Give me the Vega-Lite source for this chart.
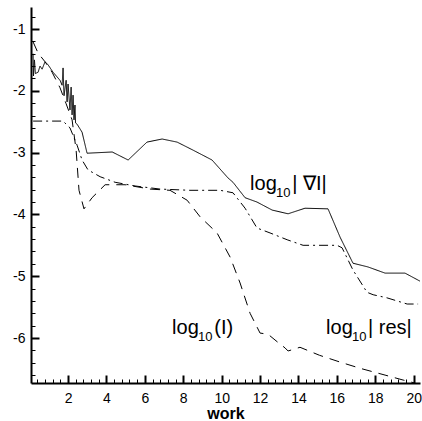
{
  "$schema": "https://vega.github.io/schema/vega-lite/v6.json",
  "width": 389,
  "height": 376,
  "autosize": {"type": "none"},
  "padding": {"left": 31, "top": 7, "right": 2, "bottom": 38},
  "background": "white",
  "config": {
    "view": {"stroke": null},
    "font": "Liberation Sans",
    "axis": {"grid": false, "domainColor": "black", "tickColor": "black", "labelColor": "black", "titleColor": "black", "labelFont": "Liberation Sans", "titleFont": "Liberation Sans"}
  },
  "datasets": {
    "curves": [
      {"s": "grad", "x": 0.18, "y": -1.40},
      {"s": "grad", "x": 0.20, "y": -1.76},
      {"s": "grad", "x": 0.25, "y": -1.50},
      {"s": "grad", "x": 0.30, "y": -1.72},
      {"s": "grad", "x": 0.44, "y": -1.70},
      {"s": "grad", "x": 0.54, "y": -1.60},
      {"s": "grad", "x": 0.65, "y": -1.65},
      {"s": "grad", "x": 0.80, "y": -1.53},
      {"s": "grad", "x": 0.96, "y": -1.58},
      {"s": "grad", "x": 1.22, "y": -1.70},
      {"s": "grad", "x": 1.58, "y": -1.83},
      {"s": "grad", "x": 1.69, "y": -1.91},
      {"s": "grad", "x": 1.74, "y": -1.63},
      {"s": "grad", "x": 1.79, "y": -2.08},
      {"s": "grad", "x": 1.90, "y": -1.83},
      {"s": "grad", "x": 1.95, "y": -2.18},
      {"s": "grad", "x": 2.00, "y": -1.89},
      {"s": "grad", "x": 2.10, "y": -2.31},
      {"s": "grad", "x": 2.16, "y": -1.94},
      {"s": "grad", "x": 2.21, "y": -2.39},
      {"s": "grad", "x": 2.26, "y": -2.07},
      {"s": "grad", "x": 2.31, "y": -2.47},
      {"s": "grad", "x": 2.36, "y": -2.23},
      {"s": "grad", "x": 2.39, "y": -2.52},
      {"s": "grad", "x": 2.47, "y": -2.54},
      {"s": "grad", "x": 2.73, "y": -2.67},
      {"s": "grad", "x": 2.99, "y": -3.01},
      {"s": "grad", "x": 4.30, "y": -2.99},
      {"s": "grad", "x": 5.13, "y": -3.12},
      {"s": "grad", "x": 6.11, "y": -2.83},
      {"s": "grad", "x": 6.90, "y": -2.78},
      {"s": "grad", "x": 7.68, "y": -2.83},
      {"s": "grad", "x": 8.51, "y": -2.96},
      {"s": "grad", "x": 9.50, "y": -3.12},
      {"s": "grad", "x": 10.33, "y": -3.41},
      {"s": "grad", "x": 10.59, "y": -3.48},
      {"s": "grad", "x": 11.22, "y": -3.73},
      {"s": "grad", "x": 11.84, "y": -3.80},
      {"s": "grad", "x": 12.63, "y": -3.93},
      {"s": "grad", "x": 13.46, "y": -3.99},
      {"s": "grad", "x": 14.34, "y": -3.90},
      {"s": "grad", "x": 15.54, "y": -3.91},
      {"s": "grad", "x": 16.17, "y": -4.37},
      {"s": "grad", "x": 16.84, "y": -4.79},
      {"s": "grad", "x": 17.62, "y": -4.85},
      {"s": "grad", "x": 18.51, "y": -4.95},
      {"s": "grad", "x": 19.55, "y": -4.95},
      {"s": "grad", "x": 20.33, "y": -5.08},
      {"s": "res", "x": 0.18, "y": -2.49},
      {"s": "res", "x": 1.74, "y": -2.49},
      {"s": "res", "x": 2.10, "y": -2.60},
      {"s": "res", "x": 2.47, "y": -2.88},
      {"s": "res", "x": 2.73, "y": -3.12},
      {"s": "res", "x": 3.04, "y": -3.28},
      {"s": "res", "x": 3.67, "y": -3.39},
      {"s": "res", "x": 4.45, "y": -3.48},
      {"s": "res", "x": 5.49, "y": -3.54},
      {"s": "res", "x": 6.79, "y": -3.59},
      {"s": "res", "x": 8.35, "y": -3.61},
      {"s": "res", "x": 9.92, "y": -3.61},
      {"s": "res", "x": 10.59, "y": -3.65},
      {"s": "res", "x": 11.22, "y": -3.90},
      {"s": "res", "x": 11.84, "y": -4.22},
      {"s": "res", "x": 12.52, "y": -4.30},
      {"s": "res", "x": 13.41, "y": -4.41},
      {"s": "res", "x": 14.24, "y": -4.50},
      {"s": "res", "x": 16.01, "y": -4.50},
      {"s": "res", "x": 16.27, "y": -4.54},
      {"s": "res", "x": 16.84, "y": -4.90},
      {"s": "res", "x": 17.57, "y": -5.26},
      {"s": "res", "x": 17.89, "y": -5.30},
      {"s": "res", "x": 18.61, "y": -5.35},
      {"s": "res", "x": 19.66, "y": -5.45},
      {"s": "res", "x": 20.23, "y": -5.45},
      {"s": "I", "x": 0.18, "y": -1.21},
      {"s": "I", "x": 0.44, "y": -1.39},
      {"s": "I", "x": 0.80, "y": -1.53},
      {"s": "I", "x": 1.17, "y": -1.70},
      {"s": "I", "x": 1.58, "y": -1.95},
      {"s": "I", "x": 1.90, "y": -2.21},
      {"s": "I", "x": 2.21, "y": -2.47},
      {"s": "I", "x": 2.42, "y": -2.96},
      {"s": "I", "x": 2.57, "y": -3.61},
      {"s": "I", "x": 2.83, "y": -3.91},
      {"s": "I", "x": 3.25, "y": -3.73},
      {"s": "I", "x": 3.93, "y": -3.52},
      {"s": "I", "x": 4.97, "y": -3.52},
      {"s": "I", "x": 6.27, "y": -3.59},
      {"s": "I", "x": 7.31, "y": -3.61},
      {"s": "I", "x": 8.20, "y": -3.77},
      {"s": "I", "x": 8.88, "y": -4.04},
      {"s": "I", "x": 9.76, "y": -4.30},
      {"s": "I", "x": 10.44, "y": -4.69},
      {"s": "I", "x": 10.96, "y": -5.11},
      {"s": "I", "x": 11.48, "y": -5.60},
      {"s": "I", "x": 12.00, "y": -5.92},
      {"s": "I", "x": 12.42, "y": -5.94},
      {"s": "I", "x": 12.89, "y": -6.06},
      {"s": "I", "x": 13.30, "y": -6.16},
      {"s": "I", "x": 13.46, "y": -6.21},
      {"s": "I", "x": 14.08, "y": -6.15},
      {"s": "I", "x": 15.10, "y": -6.28},
      {"s": "I", "x": 16.17, "y": -6.39},
      {"s": "I", "x": 17.21, "y": -6.49},
      {"s": "I", "x": 18.51, "y": -6.60},
      {"s": "I", "x": 19.45, "y": -6.68},
      {"s": "I", "x": 20.08, "y": -6.73}
    ],
    "labels": [
      {"part": "main", "x": 11.48, "y": -3.605, "t": "log"},
      {"part": "sub", "x": 12.83, "y": -3.72, "t": "10"},
      {"part": "main", "x": 13.67, "y": -3.605, "t": "| ∇I|"},
      {"part": "main", "x": 7.42, "y": -5.935, "t": "log"},
      {"part": "sub", "x": 8.77, "y": -6.05, "t": "10"},
      {"part": "main", "x": 9.62, "y": -5.935, "t": "(I)"},
      {"part": "main", "x": 15.44, "y": -5.935, "t": "log"},
      {"part": "sub", "x": 16.79, "y": -6.05, "t": "10"},
      {"part": "main", "x": 17.62, "y": -5.935, "t": "| res|"}
    ]
  },
  "resolve": {"axis": {"x": "independent", "y": "independent"}},
  "layer": [
    {
      "data": {"name": "curves"},
      "mark": {"type": "line", "color": "black", "strokeWidth": 1},
      "encoding": {
        "x": {"field": "x", "type": "quantitative", "scale": {"domain": [0.07, 20.33], "nice": false, "zero": false},
          "axis": {"orient": "bottom", "values": [2, 4, 6, 8, 10, 12, 14, 16, 18, 20], "tickSize": -8, "tickWidth": 2, "domainWidth": 2, "labelFontSize": 14, "labelPadding": 16, "labelExpr": "'' + datum.value", "title": "work", "titleFontSize": 16, "titleFontWeight": "bold", "titleBaseline": "alphabetic", "titleY": 35}},
        "y": {"field": "y", "type": "quantitative", "scale": {"domain": [-6.728, -0.644], "nice": false, "zero": false},
          "axis": {"orient": "left", "values": [-1, -2, -3, -4, -5, -6], "tickSize": -8, "tickWidth": 2, "domainWidth": 2, "labelFontSize": 14, "labelPadding": 14, "labelExpr": "'' + datum.value", "title": null}},
        "detail": {"field": "s"},
        "order": {"value": null},
        "strokeDash": {"field": "s", "type": "nominal", "scale": {"domain": ["grad", "res", "I"], "range": [[1, 0], [9, 4, 2, 4], [10, 7]]}, "legend": null}
      }
    },
    {
      "data": {"name": "curves"},
      "mark": {"type": "point", "opacity": 0},
      "encoding": {
        "x": {"field": "x", "type": "quantitative",
          "axis": {"orient": "bottom", "values": [0.4, 0.8, 1.2, 1.6, 2.4, 2.8, 3.2, 3.6, 4.4, 4.8, 5.2, 5.6, 6.4, 6.8, 7.2, 7.6, 8.4, 8.8, 9.2, 9.6, 10.4, 10.8, 11.2, 11.6, 12.4, 12.8, 13.2, 13.6, 14.4, 14.8, 15.2, 15.6, 16.4, 16.8, 17.2, 17.6, 18.4, 18.8, 19.2, 19.6], "tickSize": -4, "tickWidth": 1, "domain": false, "labels": false, "title": null}},
        "y": {"field": "y", "type": "quantitative",
          "axis": {"orient": "left", "values": [-0.8, -1.2, -1.4, -1.6, -1.8, -2.2, -2.4, -2.6, -2.8, -3.2, -3.4, -3.6, -3.8, -4.2, -4.4, -4.6, -4.8, -5.2, -5.4, -5.6, -5.8, -6.2, -6.4, -6.6], "tickSize": -4, "tickWidth": 1, "domain": false, "labels": false, "title": null}}
      }
    },
    {
      "data": {"name": "labels"},
      "transform": [{"filter": "datum.part == 'main'"}],
      "mark": {"type": "text", "align": "left", "baseline": "alphabetic", "fontSize": 20, "color": "black", "font": "Liberation Sans"},
      "encoding": {
        "x": {"field": "x", "type": "quantitative", "axis": null},
        "y": {"field": "y", "type": "quantitative", "axis": null},
        "text": {"field": "t"}
      }
    },
    {
      "data": {"name": "labels"},
      "transform": [{"filter": "datum.part == 'sub'"}],
      "mark": {"type": "text", "align": "left", "baseline": "alphabetic", "fontSize": 13, "color": "black", "font": "Liberation Sans"},
      "encoding": {
        "x": {"field": "x", "type": "quantitative", "axis": null},
        "y": {"field": "y", "type": "quantitative", "axis": null},
        "text": {"field": "t"}
      }
    }
  ]
}
